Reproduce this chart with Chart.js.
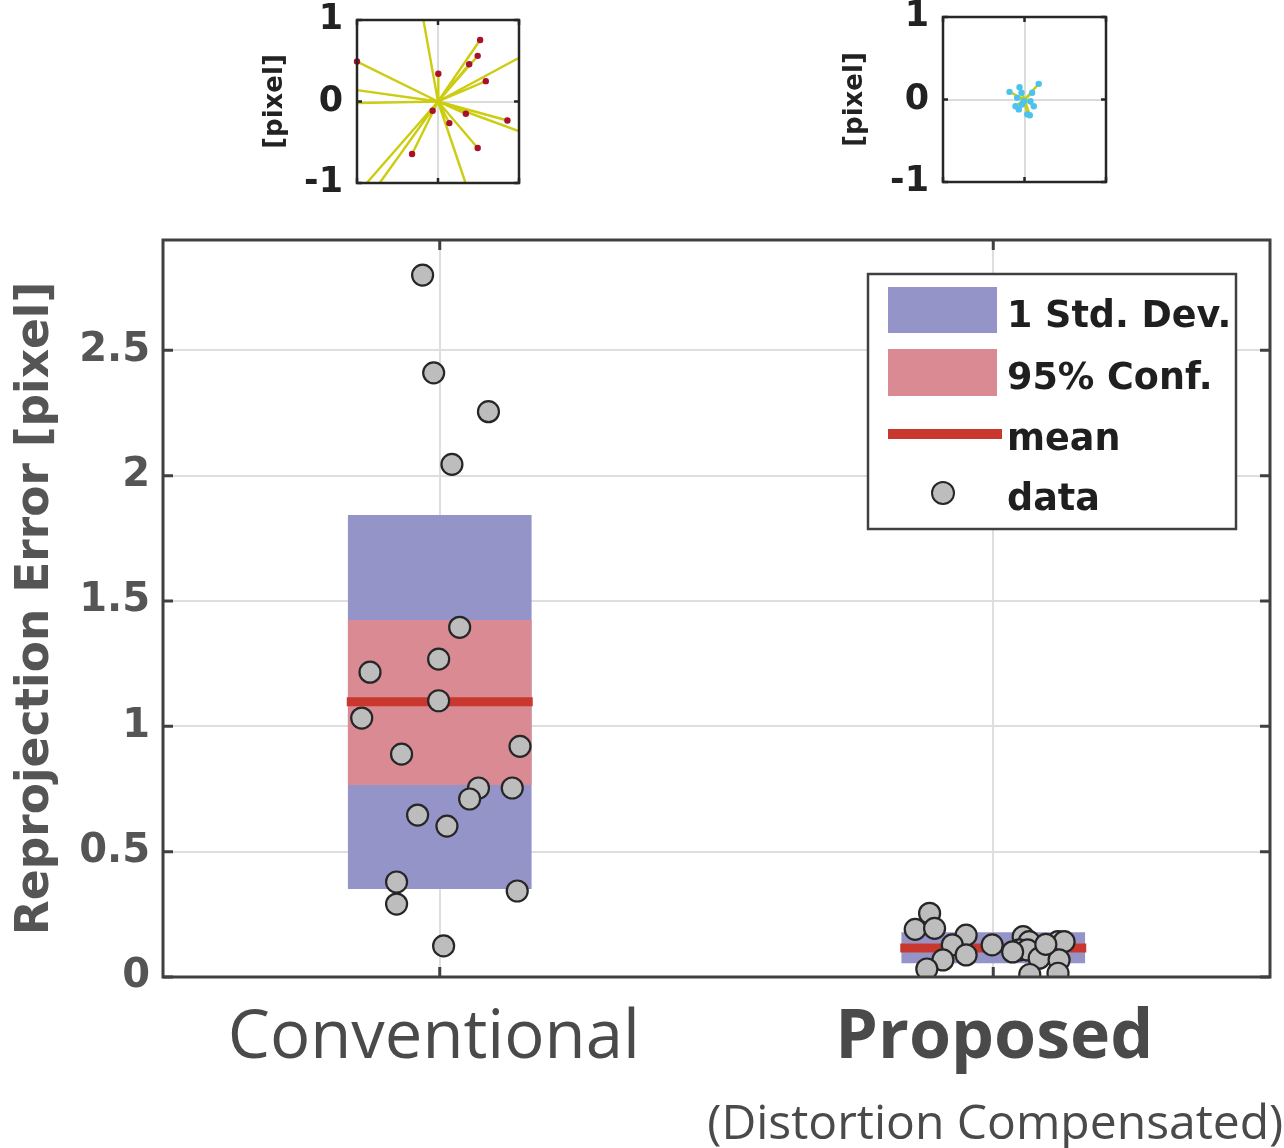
<!DOCTYPE html>
<html><head><meta charset="utf-8">
<script src="https://cdn.jsdelivr.net/npm/chart.js@4/dist/chart.umd.min.js"></script>
<style>
html,body{margin:0;padding:0;background:#fff;width:1284px;height:1148px;overflow:hidden}
canvas{position:absolute}
</style></head><body>
<canvas id="main" width="1284" height="1148" style="left:0;top:0"></canvas>
<canvas id="insetL" width="290" height="200" style="left:240px;top:0"></canvas>
<canvas id="insetR" width="300" height="200" style="left:820px;top:0"></canvas>
<script>
// ---------------- data ----------------
const categories = ['Conventional', 'Proposed'];
const categorySub = ['', '(Distortion Compensated)'];
const yTitle = 'Reprojection Error [pixel]';
const yTicks = [0, 0.5, 1, 1.5, 2, 2.5];
const yMax = 2.94;
const stdLow = [0.352, 0.056];
const stdHigh = [1.842, 0.177];
const confLow = [0.767, 0.100];
const confHigh = [1.423, 0.132];
const meanVals = [1.098, 0.116];
const convValues = [2.80, 2.41, 2.255, 2.045, 1.395, 1.268, 1.216, 1.102, 1.033, 0.92, 0.889, 0.754, 0.71, 0.754, 0.646, 0.602, 0.379, 0.291, 0.343, 0.124];
const convJitter = [-0.031, -0.011, 0.088, 0.022, 0.036, -0.002, -0.126, -0.002, -0.141, 0.145, -0.069, 0.07, 0.054, 0.131, -0.04, 0.013, -0.078, -0.078, 0.14, 0.007];
const propValues = [0.254, 0.190, 0.194, 0.167, 0.128, 0.088, 0.068, 0.032, 0.128, 0.161, 0.141, 0.108, 0.108, 0.075, 0.010, 0.141, 0.141, 0.068, 0.015, 0.100, 0.130];
const propJitter = [-0.115, -0.141, -0.106, -0.049, -0.074, -0.049, -0.091, -0.120, -0.002, 0.054, 0.065, 0.047, 0.062, 0.083, 0.066, 0.117, 0.128, 0.119, 0.117, 0.035, 0.095];
const legendLabels = ['1 Std. Dev.', '95% Conf.', 'mean', 'data'];

// insets (error vectors, [pixel])
const insetTicks = [-1, 0, 1];
const insetTitle = '[pixel]';
const convLineEndX = [-0.18, 0.99, 0.99, -1.0, -1.0, -0.88, -0.72, 0.34];
const convLineEndY = [1.0, 0.53, -0.36, 0.14, -0.02, -1.0, -1.0, -1.0];
const convDotX = [0.52, 0.49, 0.385, 0.59, 0.004, -1.0, 0.344, 0.857, 0.49, -0.32, -0.066, 0.14];
const convDotY = [0.755, 0.56, 0.457, 0.25, 0.34, 0.49, -0.151, -0.233, -0.571, -0.645, -0.114, -0.265];
const propDotX = [0.175, -0.184, -0.061, -0.037, 0.094, 0.114, -0.11, -0.07, 0.033, 0.065, -0.008, -0.03, -0.09, 0.073];
const propDotY = [0.19, 0.093, 0.15, 0.081, 0.081, -0.081, -0.081, -0.12, -0.18, -0.19, -0.02, -0.06, 0.02, -0.02];

// ---------------- styles ----------------
const FONT = 'DejaVu Sans';
const MEAN_HALF = 0.168;
const C_STD = '#9494c8', C_CONF = '#d98a93', C_MEAN = '#c8382e';
const C_DOT = '#bdbdbd', C_DOT_EDGE = '#262626';
const C_GRID = '#dedede', C_FRAME = '#404040';

const groupX = categories.map((_, i) => i + 1);

function segData(xs, ys) {
  const out = [];
  xs.forEach((x, i) => { out.push({x: 0, y: 0}, {x: x, y: ys[i]}, {x: x, y: null}); });
  return out;
}

function framePlugin(color, width, tickLen) {
  return {
    id: 'frame',
    afterDatasetsDraw(chart) {
      const {ctx, chartArea: a, scales} = chart;
      ctx.save();
      ctx.strokeStyle = color;
      ctx.lineWidth = width;
      ctx.beginPath();
      scales.x.ticks.forEach(t => {
        const px = scales.x.getPixelForValue(t.value);
        ctx.moveTo(px, a.bottom); ctx.lineTo(px, a.bottom - tickLen);
        ctx.moveTo(px, a.top); ctx.lineTo(px, a.top + tickLen);
      });
      scales.y.ticks.forEach(t => {
        const py = scales.y.getPixelForValue(t.value);
        ctx.moveTo(a.left, py); ctx.lineTo(a.left + tickLen, py);
        ctx.moveTo(a.right, py); ctx.lineTo(a.right - tickLen, py);
      });
      ctx.stroke();
      ctx.strokeRect(a.left, a.top, a.right - a.left, a.bottom - a.top);
      ctx.restore();
    }
  };
}

const mainLabelsPlugin = {
  id: 'mainLabels',
  afterDraw(chart) {
    const {ctx, chartArea: a, scales} = chart;
    ctx.save();
    ctx.fillStyle = '#4a4a4a';
    ctx.textAlign = 'center';
    ctx.textBaseline = 'alphabetic';
    categories.forEach((c, i) => {
      const px = scales.x.getPixelForValue(groupX[i]);
      ctx.font = (i === 1 ? 'bold 68px ' : '67px ') + '"Open Sans"';
      ctx.fillText(c, px + (i === 1 ? 1 : -6), a.bottom + 81);
      if (categorySub[i]) {
        ctx.font = '48px "Open Sans"';
        ctx.fillText(categorySub[i], px + 2, a.bottom + 162);
      }
    });
    // legend
    const L = a.right - 402, T = a.top + 34, W = 368, H = 255;
    ctx.fillStyle = '#ffffff';
    ctx.fillRect(L, T, W, H);
    ctx.strokeStyle = C_FRAME; ctx.lineWidth = 2.5;
    ctx.strokeRect(L, T, W, H);
    ctx.fillStyle = C_STD; ctx.fillRect(L + 20, T + 13, 109, 46);
    ctx.fillStyle = C_CONF; ctx.fillRect(L + 20, T + 75, 109, 47);
    ctx.fillStyle = C_MEAN; ctx.fillRect(L + 20, T + 155, 114, 10);
    ctx.beginPath(); ctx.arc(L + 75, T + 219, 11, 0, Math.PI * 2);
    ctx.fillStyle = C_DOT; ctx.fill(); ctx.lineWidth = 2; ctx.strokeStyle = C_DOT_EDGE; ctx.stroke();
    ctx.fillStyle = '#1f1f1f';
    ctx.font = 'bold 36.5px "' + FONT + '"';
    ctx.textAlign = 'left';
    const bl = [53, 115, 176, 236];
    legendLabels.forEach((t, i) => ctx.fillText(t, L + 139, T + bl[i]));
    ctx.restore();
  }
};

Chart.defaults.font.family = FONT;

const meanData = [];
groupX.forEach((gx, i) => { meanData.push({x: gx - MEAN_HALF, y: meanVals[i]}, {x: gx + MEAN_HALF, y: meanVals[i]}, {x: gx + MEAN_HALF, y: null}); });

const pointData = convValues.map((v, i) => ({x: groupX[0] + convJitter[i], y: v}))
  .concat(propValues.map((v, i) => ({x: groupX[1] + propJitter[i], y: v})));

new Chart(document.getElementById('main'), {
  type: 'scatter',
  data: {
    datasets: [
      { type: 'scatter', label: legendLabels[3], data: pointData, order: 0,
        pointRadius: 10.5, pointBackgroundColor: C_DOT, pointBorderColor: C_DOT_EDGE, pointBorderWidth: 2.2 },
      { type: 'line', label: legendLabels[2], data: meanData, order: 1, borderColor: C_MEAN, borderWidth: 9,
        pointRadius: 0, spanGaps: false, borderCapStyle: 'butt' },
      { type: 'bar', label: legendLabels[1], order: 2, data: groupX.map((x, i) => ({x: x, y: [confLow[i], confHigh[i]]})),
        backgroundColor: C_CONF, borderWidth: 0, barThickness: 183, grouped: false },
      { type: 'bar', label: legendLabels[0], order: 3, data: groupX.map((x, i) => ({x: x, y: [stdLow[i], stdHigh[i]]})),
        backgroundColor: C_STD, borderWidth: 0, barThickness: 183, grouped: false }
    ]
  },
  options: {
    responsive: false, animation: false, events: [],
    layout: { padding: { top: 240, right: 14, left: 0, bottom: 0 } },
    plugins: { legend: { display: false }, tooltip: { enabled: false } },
    scales: {
      x: {
        type: 'linear', min: 0.5, max: 2.5, offset: false,
        afterBuildTicks: s => { s.ticks = groupX.map(v => ({value: v})); },
        ticks: { display: false },
        grid: { color: C_GRID, lineWidth: 2, drawTicks: false, offset: false },
        border: { display: false },
        afterFit: s => { s.height = 171; s.paddingLeft = 0; s.paddingRight = 0; }
      },
      y: {
        type: 'linear', min: 0, max: yMax,
        afterBuildTicks: s => { s.ticks = yTicks.map(v => ({value: v})); },
        ticks: { font: { family: FONT, weight: 'bold', size: 40, lineHeight: 1 }, color: '#555555', padding: 13,
                 callback: v => String(v) },
        grid: { color: C_GRID, lineWidth: 2, drawTicks: false },
        border: { display: false },
        title: { display: true, text: yTitle, color: '#555555', font: { family: FONT, weight: 'bold', size: 45.5 }, padding: { top: 9, bottom: 0 } },
        afterFit: s => { s.width = 163; s.paddingTop = 0; s.paddingBottom = 0; }
      }
    }
  },
  plugins: [framePlugin(C_FRAME, 3, 10), mainLabelsPlugin]
});

function insetChart(id, datasets, yAxisW, pad) {
  return new Chart(document.getElementById(id), {
    type: 'scatter',
    data: { datasets: datasets },
    options: {
      responsive: false, animation: false, events: [],
      layout: { padding: pad },
      plugins: { legend: { display: false }, tooltip: { enabled: false } },
      scales: {
        x: {
          type: 'linear', min: -1, max: 1,
          afterBuildTicks: s => { s.ticks = insetTicks.map(v => ({value: v})); },
          ticks: { display: false },
          grid: { color: '#dcdcdc', lineWidth: 2, drawTicks: false },
          border: { display: false },
          afterFit: s => { s.height = 0; s.paddingLeft = 0; s.paddingRight = 0; }
        },
        y: {
          type: 'linear', min: -1, max: 1,
          afterBuildTicks: s => { s.ticks = insetTicks.map(v => ({value: v})); },
          ticks: { font: { family: FONT, weight: 'bold', size: 35, lineHeight: 1 }, color: '#222222', padding: 14,
                   callback: v => String(v) },
          grid: { color: '#dcdcdc', lineWidth: 2, drawTicks: false },
          border: { display: false },
          title: { display: true, text: insetTitle, color: '#222222', font: { family: FONT, weight: 'bold', size: 26 }, padding: { top: 20, bottom: 0 } },
          afterFit: s => { s.width = yAxisW; s.paddingTop = 0; s.paddingBottom = 0; }
        }
      }
    },
    plugins: [framePlugin('#262626', 2.5, 5)]
  });
}

insetChart('insetL', [
  { type: 'scatter', data: convDotX.map((x, i) => ({x: x, y: convDotY[i]})), order: 0,
    pointRadius: 3.2, pointBackgroundColor: '#a8102c', pointBorderWidth: 0, clip: 4 },
  { type: 'line', data: segData(convLineEndX.concat(convDotX), convLineEndY.concat(convDotY)), order: 1,
    borderColor: '#cccc10', borderWidth: 2.4, pointRadius: 0, spanGaps: false, clip: 0 }
], 117, { top: 20, right: 11, left: 0, bottom: 17 });

insetChart('insetR', [
  { type: 'scatter', data: propDotX.map((x, i) => ({x: x, y: propDotY[i]})), order: 0,
    pointRadius: 3.2, pointBackgroundColor: '#4cc3ef', pointBorderWidth: 0 },
  { type: 'line', data: segData(propDotX, propDotY), order: 1,
    borderColor: '#cccc10', borderWidth: 2.4, pointRadius: 0, spanGaps: false, clip: 0 }
], 123, { top: 17, right: 14, left: 0, bottom: 18 });
</script>
</body></html>
